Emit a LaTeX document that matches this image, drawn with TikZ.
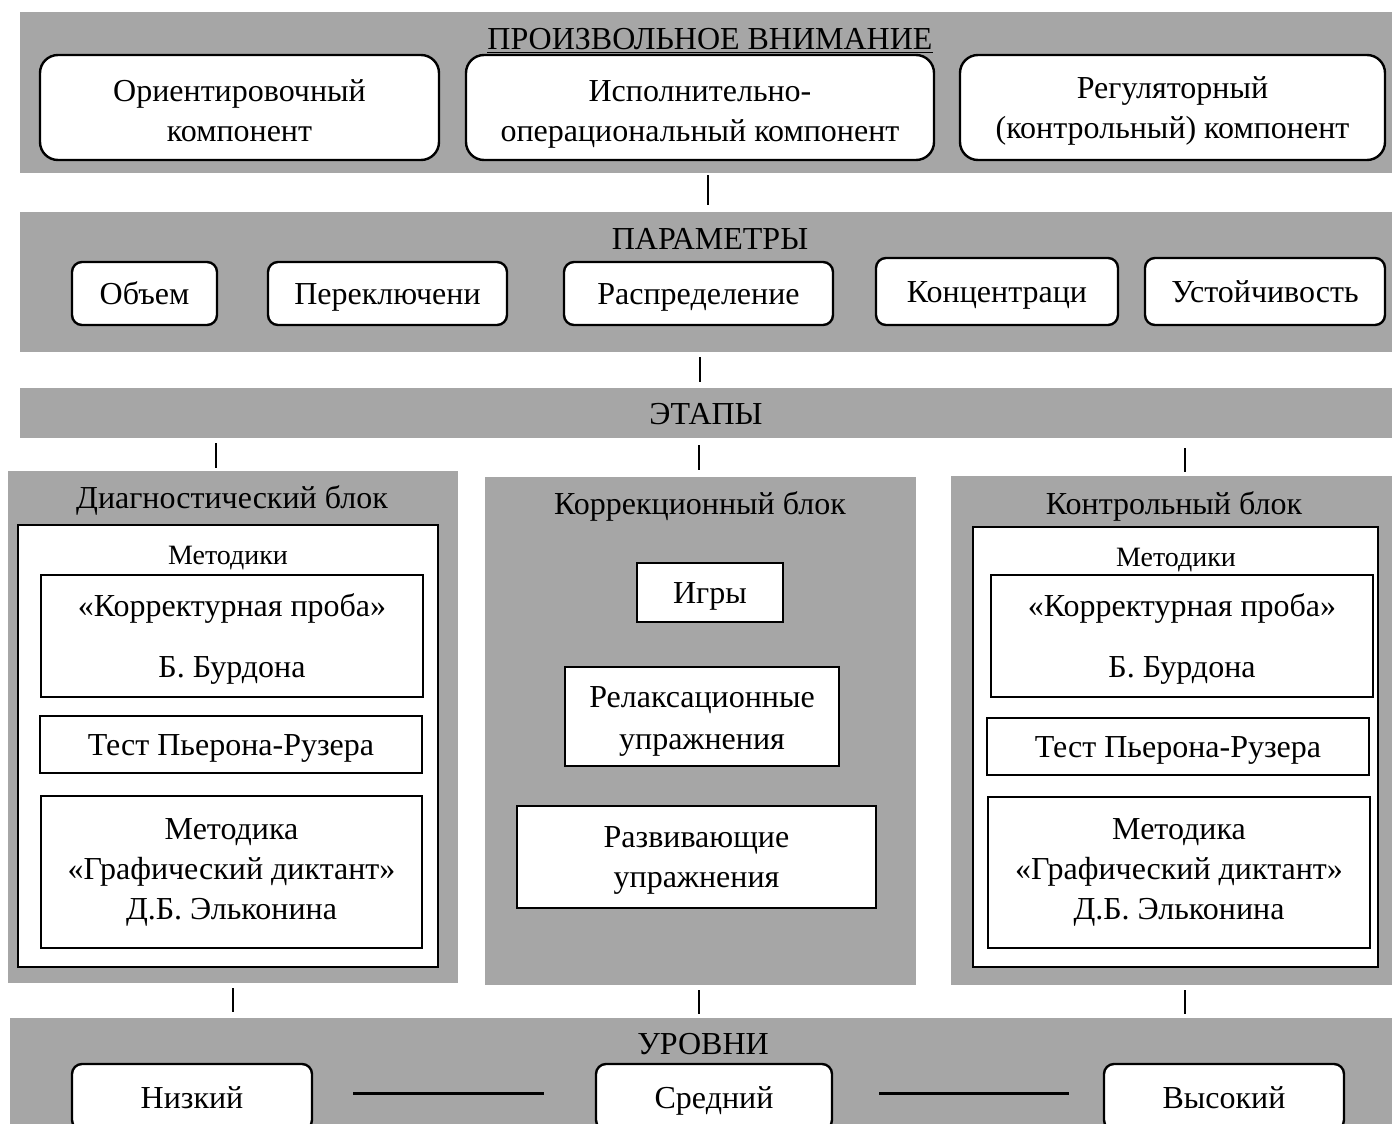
\documentclass[tikz,border=0pt]{standalone}
\usepackage{fontspec}
\setmainfont{Liberation Serif}
\usetikzlibrary{positioning}
\definecolor{BandGrey}{HTML}{A6A6A6}
\definecolor{TxtMain} {HTML}{000000}

\begin{document}
\begin{tikzpicture}[
  x=0.5pt, y=-0.5pt,
  every node/.style={font=\fontsize{16}{20}\selectfont, text=TxtMain},
  oneline/.style={text height=13pt, text depth=2pt},
  tall/.style={text height=#1, text depth=3.5pt},
  band/.style={fill=BandGrey, inner sep=0pt, align=center},
  rbox/.style={draw, fill=white, line width=1.2pt, rounded corners=9pt,
               inner sep=0pt, align=center},
  pbox/.style={rbox, oneline, rounded corners=5pt, minimum height=31.5pt},
  sbox/.style={draw, fill=white, line width=1pt, inner sep=0pt, align=center},
  methods/.style={oneline, font=\fontsize{14}{17}\selectfont},
  link/.style={line width=1pt},
  levelline/.style={line width=1.5pt},
]
  \clip (0,0) rectangle (1392,1124);

  % --- voluntary attention ---
  \node[band, minimum width=686pt, minimum height=80.5pt] (attn) at (706,92.5) {};
  \node[oneline] (attnT) at (710,38) {\underline{ПРОИЗВОЛЬНОЕ ВНИМАНИЕ}};
  \node[rbox, tall=37.9pt, minimum width=199.5pt, minimum height=52.5pt] (orient) at (239.5,107.5)
    {Ориентировочный\\компонент};
  \node[rbox, tall=37.9pt, minimum width=234pt, minimum height=52.5pt] (exec) at (700,107.5)
    {Исполнительно-\\операциональный компонент};
  \node[rbox, tall=34.1pt, minimum width=212.5pt, minimum height=52.5pt] (regul) at (1172.5,107.5)
    {Регуляторный\\(контрольный) компонент};

  % --- parameters ---
  \node[band, minimum width=686pt, minimum height=70pt] (params) at (706,282) {};
  \node[oneline] (paramsT) at (710,238) {ПАРАМЕТРЫ};
  \node[pbox, minimum width=72.5pt]  (vol)   at (144.5,293.5) {Объем};
  \node[pbox, minimum width=119.5pt] (switch) at (387.5,293.5) {Переключени};
  \node[pbox, minimum width=134.5pt] (distr) at (698.5,293.5) {Распределение};
  \node[pbox, minimum width=121pt, minimum height=33.5pt] (conc) at (997,291.5) {Концентраци};
  \node[pbox, minimum width=120pt, minimum height=33.5pt] (stab) at (1265,291.5) {Устойчивость};

  % --- stages ---
  \node[band, oneline, minimum width=686pt, minimum height=25pt] (stages) at (706,413) {ЭТАПЫ};

  % diagnostic block
  \node[band, minimum width=225pt, minimum height=256pt] (diag) at (233,727) {};
  \node[oneline] (diagT) at (232,497) {Диагностический блок};
  \node[sbox, minimum width=210pt, minimum height=221pt] (diagIn) at (228,746) {};
  \node[methods] (diagM) at (228,553) {Методики};
  \node[sbox, tall=44.9pt, minimum width=191pt, minimum height=61pt] (diagA) at (232,636)
    {«Корректурная проба»\\[10.5pt]Б. Бурдона};
  \node[sbox, oneline, minimum width=191pt, minimum height=28.5pt] (diagB) at (231,744.5)
    {Тест Пьерона-Рузера};
  \node[sbox, minimum width=190.5pt, minimum height=76pt] (diagC) at (231.5,872)
    {Методика\\«Графический диктант»\\Д.Б. Эльконина};

  % correction block
  \node[band, minimum width=215.5pt, minimum height=254pt] (corr) at (700.5,731) {};
  \node[oneline] (corrT) at (700,503) {Коррекционный блок};
  \node[sbox, oneline, minimum width=73pt, minimum height=29.5pt] (games) at (710,592.5) {Игры};
  \node[sbox, tall=36.9pt, minimum width=137pt, minimum height=49.5pt] (relax) at (702,716.5)
    {Релаксационные\\[1pt]упражнения};
  \node[sbox, tall=33.9pt, minimum width=179.5pt, minimum height=51pt] (devel) at (696.5,857)
    {Развивающие\\упражнения};

  % control block
  \node[band, minimum width=220.5pt, minimum height=254.5pt] (ctrl) at (1171.5,730.5) {};
  \node[oneline] (ctrlT) at (1174,503) {Контрольный блок};
  \node[sbox, minimum width=202.5pt, minimum height=220pt] (ctrlIn) at (1175.5,747) {};
  \node[methods] (ctrlM) at (1176,555) {Методики};
  \node[sbox, tall=44.9pt, minimum width=191pt, minimum height=61pt] (ctrlA) at (1182,636)
    {«Корректурная проба»\\[10.5pt]Б. Бурдона};
  \node[sbox, oneline, minimum width=191pt, minimum height=28.5pt] (ctrlB) at (1178,746.5)
    {Тест Пьерона-Рузера};
  \node[sbox, minimum width=191pt, minimum height=75.5pt] (ctrlC) at (1179,872.5)
    {Методика\\«Графический диктант»\\Д.Б. Эльконина};

  % --- levels ---
  \node[band, minimum width=691pt, minimum height=61pt] (levels) at (701,1079) {};
  \node[oneline] (levelsT) at (703,1043) {УРОВНИ};
  \node[pbox, minimum width=120pt, minimum height=33pt] (low)  at (192,1097) {Низкий};
  \node[pbox, minimum width=118pt, minimum height=33pt] (mid)  at (714,1097) {Средний};
  \node[pbox, minimum width=120pt, minimum height=33pt] (high) at (1224,1097) {Высокий};

  \draw[levelline] ([xshift=20pt,yshift=2pt]low.east) -- ([xshift=-25.5pt,yshift=2pt]mid.west);
  \draw[levelline] ([xshift=23pt,yshift=2pt]mid.east) -- ([xshift=-17pt,yshift=2pt]high.west);

  % short links between the bands
  \draw[link] (attn.south) ++(2,2) -- ++(0,30);
  \draw[link] (params.south) ++(-6,5) -- ++(0,25);
  \draw[link] (diag.north) ++(-17,-3) -- ++(0,-25);
  \draw[link] (corr.north) ++(-2,-7) -- ++(0,-25);
  \draw[link] (ctrl.north) ++(13.5,-4) -- ++(0,-24);
  \foreach \blk/\dx in {diag/0, corr/-2, ctrl/13.5}
    \draw[link] (\blk.south) ++(\dx,5) -- ++(0,24);
\end{tikzpicture}
\end{document}
